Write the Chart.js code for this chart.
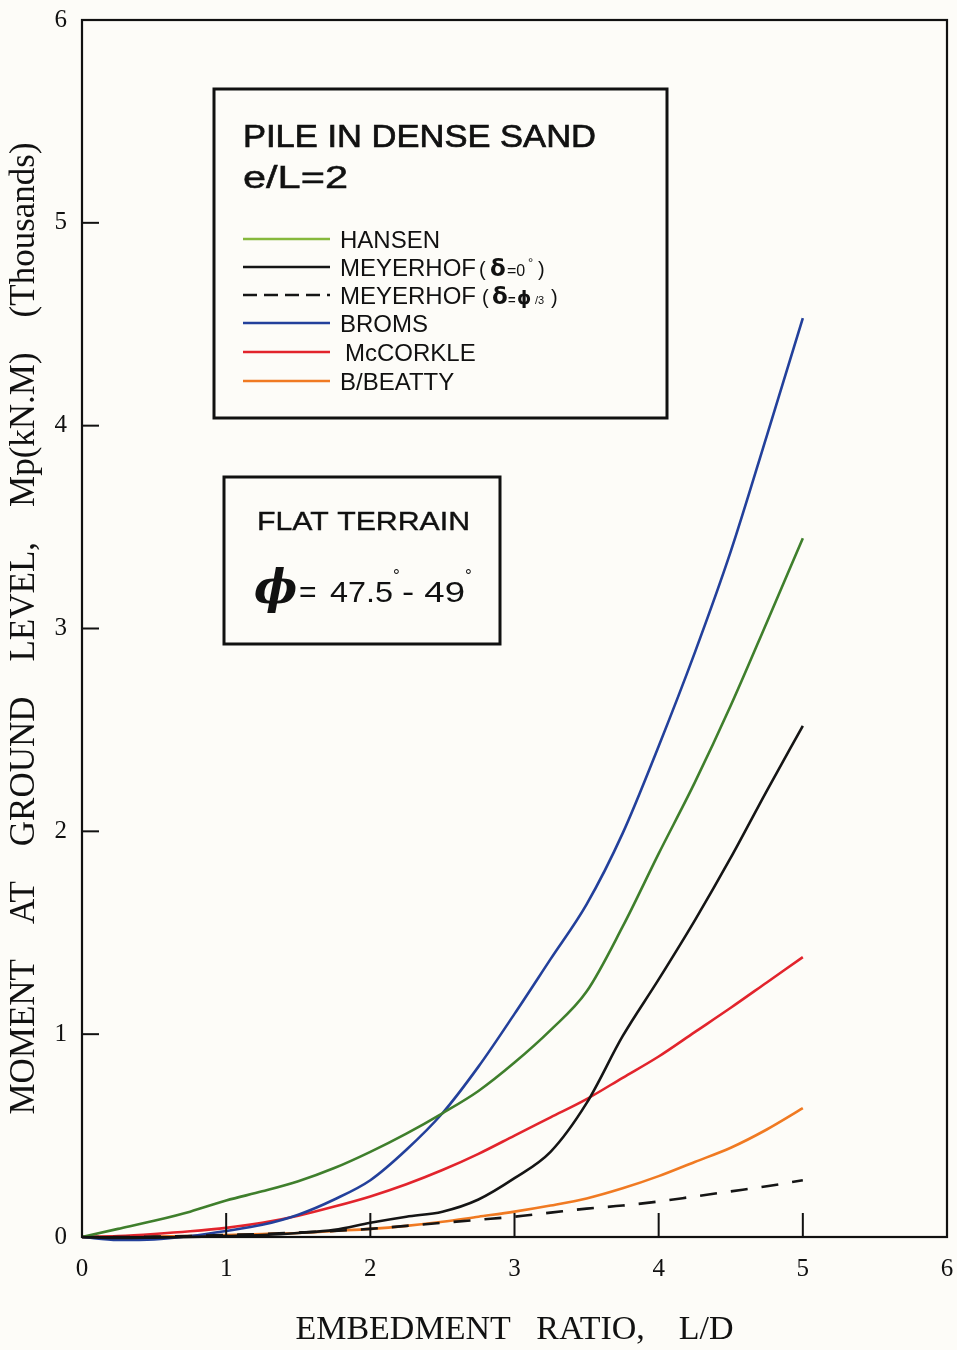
<!DOCTYPE html>
<html>
<head>
<meta charset="utf-8">
<script src="https://cdn.jsdelivr.net/npm/chart.js@4.4.1/dist/chart.umd.min.js"></script>
<style>
  html, body { margin: 0; padding: 0; background: #fdfcf8; }
  #wrap { width: 957px; height: 1350px; position: relative; }
</style>
</head>
<body>
<div id="wrap"><canvas id="chart"></canvas></div>
<script>
// ---- data ----
const embedmentRatio = [0, 0.25, 0.5, 0.75, 1, 1.25, 1.5, 1.75, 2, 2.25, 2.5, 2.75, 3, 3.25, 3.5, 3.75, 4, 4.25, 4.5, 4.75, 5];
const hansen       = [0, 0.04, 0.08, 0.125, 0.18, 0.225, 0.275, 0.34, 0.42, 0.51, 0.61, 0.72, 0.86, 1.02, 1.21, 1.53, 1.89, 2.24, 2.62, 3.03, 3.445];
const meyerhof0    = [0, -0.005, -0.003, 0, 0.005, 0.01, 0.02, 0.035, 0.07, 0.10, 0.125, 0.185, 0.29, 0.42, 0.66, 0.99, 1.27, 1.56, 1.87, 2.20, 2.52];
const meyerhofPhi3 = [0, 0, 0.002, 0.005, 0.01, 0.015, 0.022, 0.03, 0.04, 0.055, 0.07, 0.085, 0.10, 0.12, 0.14, 0.155, 0.175, 0.20, 0.225, 0.25, 0.28];
const broms        = [0, -0.015, -0.012, 0.005, 0.03, 0.06, 0.11, 0.185, 0.28, 0.43, 0.61, 0.84, 1.10, 1.37, 1.64, 1.99, 2.42, 2.88, 3.38, 3.95, 4.53];
const mccorkle     = [0, 0.005, 0.015, 0.028, 0.045, 0.07, 0.105, 0.15, 0.20, 0.26, 0.33, 0.41, 0.50, 0.59, 0.68, 0.785, 0.89, 1.01, 1.13, 1.255, 1.38];
const bBeatty      = [0, 0, 0.002, 0.005, 0.01, 0.015, 0.02, 0.03, 0.04, 0.055, 0.075, 0.10, 0.125, 0.155, 0.19, 0.24, 0.30, 0.37, 0.44, 0.53, 0.635];

const seriesLabels = ['HANSEN', 'MEYERHOF (δ=0°)', 'MEYERHOF (δ=φ/3)', 'BROMS', 'McCORKLE', 'B/BEATTY'];
const xTickValues = [0, 1, 2, 3, 4, 5, 6];
const yTickValues = [0, 1, 2, 3, 4, 5, 6];
const xTitle = 'EMBEDMENT   RATIO,    L/D';
const yTitle = 'MOMENT    AT    GROUND    LEVEL,    Mp(kN.M)    (Thousands)';
const boxTitle = 'PILE IN DENSE SAND';
const boxSubtitle = 'e/L=2';
const noteTitle = 'FLAT TERRAIN';

// ---- styles ----
const BG = '#fdfcf8';
const colors = ['#3f7f2c', '#151515', '#151515', '#23409b', '#e2242c', '#f07a22'];
const legendColors = ['#86b83c', '#151515', '#151515', '#23409b', '#e2242c', '#f07a22'];
const dashes = [[], [], [17, 14], [], [], []];
const legendDashes = [[], [], [14, 7], [], [], []];
const seriesValues = [hansen, meyerhof0, meyerhofPhi3, broms, mccorkle, bBeatty];

const datasets = seriesValues.map((vals, i) => ({
  label: seriesLabels[i],
  data: embedmentRatio.map((x, j) => ({ x: x, y: vals[j] })),
  borderColor: colors[i],
  backgroundColor: colors[i],
  borderWidth: 2.6,
  borderDash: dashes[i],
  pointRadius: 0,
  fill: false,
  cubicInterpolationMode: 'monotone',
  clip: 8
}));

function fitText(ctx, text, x, y, font, width, stroke) {
  ctx.save();
  ctx.font = font;
  const w = ctx.measureText(text).width;
  ctx.translate(x, y);
  ctx.scale(width / w, 1);
  ctx.fillText(text, 0, 0);
  if (stroke) { ctx.lineWidth = stroke; ctx.strokeStyle = ctx.fillStyle; ctx.strokeText(text, 0, 0); }
  ctx.restore();
}
function drawSegs(ctx, x, y, segs) {
  segs.forEach(s => {
    if (s.x !== undefined) x = s.x;
    ctx.font = s.f;
    ctx.fillText(s.t, x, y + (s.dy || 0));
    x += ctx.measureText(s.t).width + (s.dx || 0);
  });
}

const decorPlugin = {
  id: 'decor',
  afterDatasetsDraw(chart) {
    const ctx = chart.ctx;
    const a = chart.chartArea;
    const xs = chart.scales.x, ys = chart.scales.y;
    ctx.save();
    ctx.strokeStyle = '#111';
    ctx.setLineDash([]);
    // frame
    ctx.lineWidth = 2.2;
    ctx.strokeRect(a.left, a.top, a.right - a.left, a.bottom - a.top);
    // inward tick marks
    ctx.lineWidth = 2;
    xTickValues.slice(1, -1).forEach(v => {
      const px = xs.getPixelForValue(v);
      ctx.beginPath(); ctx.moveTo(px, a.bottom); ctx.lineTo(px, a.bottom - 24); ctx.stroke();
    });
    yTickValues.slice(1, -1).forEach(v => {
      const py = ys.getPixelForValue(v);
      ctx.beginPath(); ctx.moveTo(a.left, py); ctx.lineTo(a.left + 17, py); ctx.stroke();
    });

    // legend box
    ctx.fillStyle = BG;
    ctx.fillRect(214, 89, 453, 329);
    ctx.lineWidth = 3;
    ctx.strokeRect(214, 89, 453, 329);
    ctx.fillStyle = '#111';
    ctx.textBaseline = 'alphabetic';
    ctx.textAlign = 'left';
    fitText(ctx, boxTitle, 243, 147, '31px "Liberation Sans"', 353, 0.7);
    fitText(ctx, boxSubtitle, 243, 188, '31px "Liberation Sans"', 105, 0.5);

    const rowY = [239, 267, 295, 323, 352, 381];
    const F = '24px "Liberation Sans"';
    rowY.forEach((y, i) => {
      ctx.strokeStyle = legendColors[i];
      ctx.lineWidth = 2.4;
      ctx.setLineDash(legendDashes[i]);
      ctx.beginPath(); ctx.moveTo(243, y); ctx.lineTo(330, y); ctx.stroke();
      ctx.setLineDash([]);
      ctx.fillStyle = '#111';
      const bl = y + 8.5;
      if (i === 1) {
        drawSegs(ctx, 340, bl, [
          { t: 'MEYERHOF', f: F },
          { t: '(', f: '20px "Liberation Sans"', x: 479 },
          { t: 'δ', f: 'bold 23px "DejaVu Sans"', x: 490 },
          { t: '=0', f: '16px "Liberation Sans"', x: 507 },
          { t: '°', f: '13px "Liberation Sans"', x: 528, dy: -9 },
          { t: ')', f: '20px "Liberation Sans"', x: 538 }
        ]);
      } else if (i === 2) {
        drawSegs(ctx, 340, bl, [
          { t: 'MEYERHOF', f: F },
          { t: '(', f: '20px "Liberation Sans"', x: 482 },
          { t: 'δ', f: 'bold 23px "DejaVu Sans"', x: 492 },
          { t: '=', f: 'bold 13px "Liberation Sans"', x: 508 },
          { t: 'ϕ', f: 'bold 18px "DejaVu Sans"', x: 517 },
          { t: '/3', f: '11px "Liberation Sans"', x: 535 },
          { t: ')', f: '20px "Liberation Sans"', x: 551 }
        ]);
      } else {
        ctx.font = F;
        ctx.fillText(seriesLabels[i], i === 4 ? 345 : 340, bl);
      }
    });

    // note box
    ctx.fillStyle = BG;
    ctx.fillRect(224, 477, 276, 167);
    ctx.strokeStyle = '#111';
    ctx.lineWidth = 3;
    ctx.strokeRect(224, 477, 276, 167);
    ctx.fillStyle = '#111';
    fitText(ctx, noteTitle, 257, 530, '26px "Liberation Sans"', 213, 0.4);
    ctx.font = 'bold italic 46px "DejaVu Serif"';
    ctx.fillText('ϕ', 254, 603);
    ctx.font = '30px "Liberation Sans"';
    ctx.fillText('=', 299, 602);
    fitText(ctx, '47.5', 330, 602, '30px "Liberation Sans"', 63);
    ctx.font = '17px "Liberation Sans"';
    ctx.fillText('°', 393, 581);
    fitText(ctx, '- 49', 402, 602, '30px "Liberation Sans"', 63);
    ctx.font = '17px "Liberation Sans"';
    ctx.fillText('°', 465, 581);
    ctx.restore();
  }
};

const tickFont = { family: '"Liberation Serif", "Times New Roman", serif', size: 25 };
const titleFamily = '"Liberation Serif", "Times New Roman", serif';

new Chart(document.getElementById('chart'), {
  type: 'line',
  data: { datasets: datasets },
  options: {
    responsive: true,
    maintainAspectRatio: false,
    animation: false,
    events: [],
    layout: { padding: { top: 20, right: 10, left: 0, bottom: 0 } },
    plugins: { legend: { display: false }, tooltip: { enabled: false }, title: { display: false } },
    scales: {
      x: {
        type: 'linear', min: 0, max: 6,
        afterBuildTicks: s => { s.ticks = xTickValues.map(v => ({ value: v })); },
        afterFit: s => { s.height = 113; },
        grid: { display: false, drawTicks: true, tickLength: 17 },
        border: { display: false },
        ticks: { font: tickFont, color: '#111', padding: 0, maxRotation: 0, callback: v => String(v) },
        title: { display: true, text: xTitle, color: '#111', font: { family: titleFamily, size: 34 }, padding: { top: 0, bottom: 0 } }
      },
      y: {
        type: 'linear', min: 0, max: 6,
        afterBuildTicks: s => { s.ticks = yTickValues.map(v => ({ value: v })); },
        afterFit: s => { s.width = 82; },
        grid: { display: false, drawTicks: true, tickLength: 15 },
        border: { display: false },
        ticks: { font: tickFont, color: '#111', padding: 0, callback: v => String(v) },
        title: { display: true, text: yTitle, color: '#111', font: { family: titleFamily, size: 35 }, padding: { top: 4, bottom: 0 } }
      }
    }
  },
  plugins: [decorPlugin]
});
</script>
</body>
</html>
